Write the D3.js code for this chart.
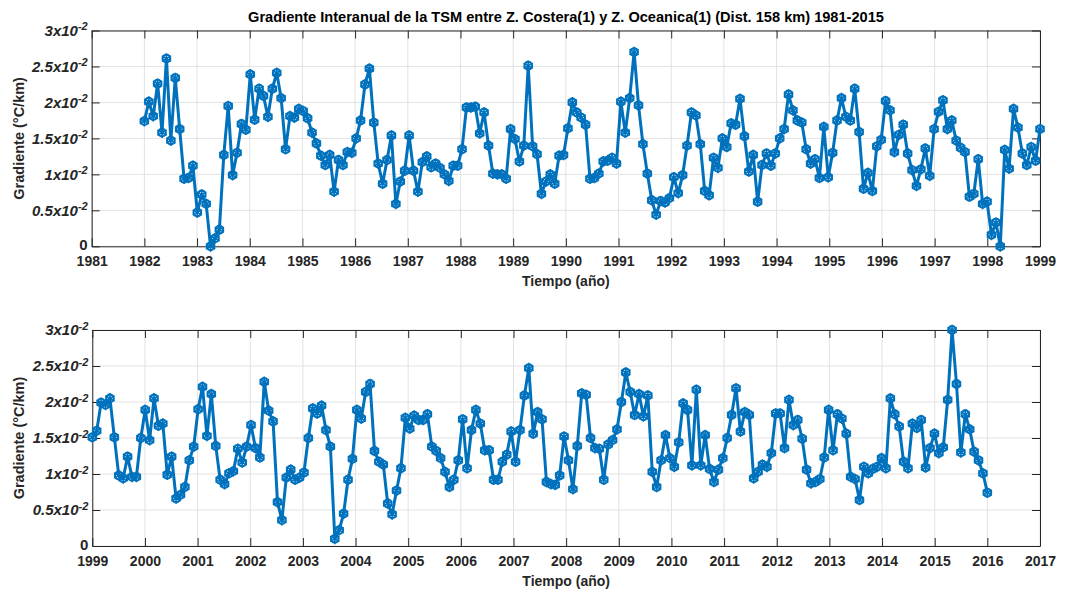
<!DOCTYPE html>
<html>
<head>
<meta charset="utf-8">
<script src="https://cdn.jsdelivr.net/npm/d3@7"></script>
<style>
  body { margin: 0; background: #fff; }
  svg { font-family: "Liberation Sans", Arial, sans-serif; }
</style>
</head>
<body>
<svg id="chart" width="1065" height="591"></svg>
<script>
// monthly gradient values, Jan 1982 .. Dec 1998 (one row per year)
let gradTop = [
  0.0174,0.0201,0.0181,0.0226,0.0158,0.0261,0.0147,0.0234,0.0163,0.0094,0.0095,0.0112,
  0.0047,0.0072,0.0059,0.0000,0.0011,0.0023,0.0127,0.0195,0.0099,0.0130,0.0170,0.0162,
  0.0239,0.0176,0.0219,0.0209,0.0180,0.0219,0.0241,0.0206,0.0135,0.0181,0.0179,0.0191,
  0.0188,0.0178,0.0158,0.0143,0.0126,0.0113,0.0127,0.0076,0.0120,0.0113,0.0131,0.0130,
  0.0150,0.0175,0.0225,0.0247,0.0172,0.0115,0.0087,0.0120,0.0154,0.0059,0.0090,0.0105,
  0.0154,0.0105,0.0076,0.0117,0.0125,0.0110,0.0115,0.0109,0.0100,0.0091,0.0112,0.0112,
  0.0135,0.0193,0.0193,0.0194,0.0157,0.0186,0.0140,0.0101,0.0100,0.0100,0.0094,0.0163,
  0.0149,0.0118,0.0140,0.0251,0.0139,0.0128,0.0073,0.0090,0.0100,0.0087,0.0126,0.0127,
  0.0164,0.0200,0.0186,0.0179,0.0169,0.0094,0.0095,0.0101,0.0118,0.0119,0.0123,0.0115,
  0.0201,0.0158,0.0206,0.0270,0.0196,0.0142,0.0101,0.0064,0.0044,0.0063,0.0061,0.0067,
  0.0096,0.0074,0.0099,0.0140,0.0186,0.0182,0.0142,0.0077,0.0071,0.0123,0.0109,0.0150,
  0.0138,0.0171,0.0169,0.0205,0.0153,0.0104,0.0127,0.0062,0.0113,0.0129,0.0112,0.0129,
  0.0150,0.0163,0.0211,0.0189,0.0175,0.0172,0.0135,0.0115,0.0121,0.0095,0.0166,0.0096,
  0.0130,0.0175,0.0206,0.0180,0.0175,0.0219,0.0159,0.0080,0.0102,0.0077,0.0139,0.0148,
  0.0202,0.0189,0.0131,0.0155,0.0169,0.0129,0.0106,0.0084,0.0107,0.0136,0.0098,0.0163,
  0.0187,0.0203,0.0163,0.0175,0.0147,0.0137,0.0131,0.0069,0.0073,0.0121,0.0059,0.0062,
  0.0016,0.0033,0.0000,0.0134,0.0108,0.0191,0.0165,0.0129,0.0113,0.0138,0.0119,0.0163
];

// monthly gradient values, Jan 1999 .. Dec 2015
let gradBottom = [
  0.0151,0.0160,0.0199,0.0196,0.0205,0.0151,0.0098,0.0094,0.0124,0.0096,0.0096,0.0150,
  0.0189,0.0147,0.0205,0.0167,0.0170,0.0099,0.0124,0.0066,0.0071,0.0082,0.0119,0.0138,
  0.0190,0.0221,0.0153,0.0211,0.0139,0.0092,0.0086,0.0101,0.0104,0.0135,0.0116,0.0138,
  0.0168,0.0136,0.0123,0.0228,0.0188,0.0173,0.0061,0.0036,0.0095,0.0106,0.0092,0.0095,
  0.0102,0.0150,0.0191,0.0184,0.0195,0.0161,0.0138,0.0010,0.0022,0.0045,0.0092,0.0121,
  0.0189,0.0177,0.0214,0.0225,0.0132,0.0117,0.0113,0.0059,0.0044,0.0077,0.0108,0.0178,
  0.0163,0.0181,0.0175,0.0175,0.0183,0.0138,0.0132,0.0122,0.0103,0.0082,0.0092,0.0119,
  0.0176,0.0108,0.0161,0.0189,0.0170,0.0133,0.0133,0.0092,0.0092,0.0117,0.0127,0.0159,
  0.0117,0.0161,0.0209,0.0247,0.0156,0.0186,0.0176,0.0089,0.0086,0.0085,0.0098,0.0152,
  0.0119,0.0079,0.0139,0.0212,0.0210,0.0150,0.0136,0.0135,0.0092,0.0141,0.0147,0.0162,
  0.0200,0.0241,0.0214,0.0182,0.0211,0.0180,0.0209,0.0103,0.0082,0.0119,0.0154,0.0122,
  0.0110,0.0144,0.0198,0.0189,0.0112,0.0217,0.0112,0.0154,0.0107,0.0089,0.0106,0.0122,
  0.0150,0.0182,0.0219,0.0159,0.0186,0.0182,0.0094,0.0103,0.0113,0.0110,0.0129,0.0184,
  0.0184,0.0136,0.0203,0.0168,0.0175,0.0149,0.0106,0.0087,0.0089,0.0093,0.0123,0.0189,
  0.0133,0.0183,0.0177,0.0156,0.0096,0.0093,0.0064,0.0110,0.0101,0.0107,0.0110,0.0122,
  0.0108,0.0205,0.0183,0.0166,0.0117,0.0108,0.0170,0.0164,0.0175,0.0109,0.0136,0.0156,
  0.0129,0.0137,0.0203,0.0300,0.0225,0.0130,0.0183,0.0162,0.0131,0.0119,0.0101,0.0074
];

let yearsTop = d3.range(1981, 2000);
let yearsBottom = d3.range(1999, 2018);
let yTicks = [0, 0.005, 0.01, 0.015, 0.02, 0.025, 0.03];
let yTickLabels = ["0", "0.5", "1", "1.5", "2", "2.5", "3"];

let title = "Gradiente Interanual de la TSM entre Z. Costera(1) y Z. Oceanica(1) (Dist. 158 km) 1981-2015";
let blue = "#0072BD";
let axisColor = "#262626";

let svg = d3.select("#chart");

svg.append("text")
  .attr("x", 566).attr("y", 22)
  .attr("text-anchor", "middle")
  .attr("font-weight", "bold")
  .attr("font-size", "14.6px")
  .attr("fill", "#000")
  .text(title);

function drawPanel(cfg) {
  let x = d3.scaleLinear().domain(cfg.xDomain).range([cfg.left, cfg.right]);
  let y = d3.scaleLinear().domain([0, 0.03]).range([cfg.bottom, cfg.top]);
  let g = svg.append("g");

  // grid
  g.append("g").selectAll("line").data(cfg.years).join("line")
    .attr("x1", d => x(d)).attr("x2", d => x(d))
    .attr("y1", cfg.top).attr("y2", cfg.bottom)
    .attr("stroke", "#e2e2e2");
  g.append("g").selectAll("line").data(yTicks).join("line")
    .attr("x1", cfg.left).attr("x2", cfg.right)
    .attr("y1", d => y(d)).attr("y2", d => y(d))
    .attr("stroke", "#e2e2e2");

  // box + ticks (inside, like matlab)
  let xb = g.append("g").attr("transform", "translate(0," + cfg.bottom + ")")
    .call(d3.axisBottom(x).tickValues(cfg.years).tickFormat(d3.format("d"))
      .tickSize(-8).tickSizeOuter(0).tickPadding(10));
  g.append("g").attr("transform", "translate(0," + cfg.top + ")")
    .call(d3.axisTop(x).tickValues(cfg.years).tickFormat("").tickSize(-8).tickSizeOuter(0));
  let yl = g.append("g").attr("transform", "translate(" + cfg.left + ",0)")
    .call(d3.axisLeft(y).tickValues(yTicks).tickSize(-8).tickSizeOuter(0).tickPadding(4));
  g.append("g").attr("transform", "translate(" + cfg.right + ",0)")
    .call(d3.axisRight(y).tickValues(yTicks).tickFormat("").tickSize(-8).tickSizeOuter(0));

  g.selectAll(".domain, .tick line").attr("stroke", axisColor);
  xb.selectAll("text")
    .attr("font-size", "14px").attr("font-weight", "bold")
    .attr("font-family", "Liberation Sans, Arial, sans-serif").attr("fill", axisColor);

  yl.selectAll(".tick text").each(function(d, i) {
    let t = d3.select(this);
    t.text(null)
      .attr("font-size", "15px").attr("font-weight", "bold")
      .attr("font-family", "Liberation Sans, Arial, sans-serif").attr("fill", axisColor);
    if (d === 0) { t.attr("dy", "0.2em").text("0"); return; }
    t.attr("font-style", "italic");
    t.append("tspan").text(yTickLabels[i] + "x10");
    t.append("tspan").attr("dy", "-0.5em").attr("font-size", "11px").text("-2");
  });

  // axis titles
  g.append("text")
    .attr("x", (cfg.left + cfg.right) / 2).attr("y", cfg.bottom + 40)
    .attr("text-anchor", "middle").attr("font-weight", "bold").attr("font-size", "14px")
    .attr("fill", axisColor)
    .text("Tiempo (año)");
  g.append("text")
    .attr("transform", "translate(24," + ((cfg.top + cfg.bottom) / 2) + ") rotate(-90)")
    .attr("text-anchor", "middle").attr("font-weight", "bold").attr("font-size", "14.5px")
    .attr("fill", axisColor)
    .text("Gradiente (°C/km)");

  // data, evenly spaced over the plotted years
  let n = cfg.data.length;
  let t = cfg.data.map((v, i) => cfg.start + i * (cfg.end - cfg.start) / (n - 1));

  let line = d3.line().x((d, i) => x(t[i])).y(d => y(d));
  g.append("path").datum(cfg.data)
    .attr("d", line)
    .attr("fill", "none").attr("stroke", blue)
    .attr("stroke-width", 3).attr("stroke-linejoin", "round");

  let pts = g.append("g").selectAll("g").data(cfg.data).join("g")
    .attr("transform", (d, i) => "translate(" + x(t[i]) + "," + y(d) + ")");
  pts.append("circle").attr("r", 3.8)
    .attr("fill", "none").attr("stroke", blue).attr("stroke-width", 2.2);
  pts.append("path")
    .attr("d", d3.symbol(d3.symbolAsterisk, 80))
    .attr("fill", "none").attr("stroke", blue).attr("stroke-width", 1.6);
}

drawPanel({ left: 91.7, right: 1040, top: 30.5, bottom: 246.3,
  xDomain: [1981, 1999], years: yearsTop, start: 1982, end: 1999, data: gradTop });
drawPanel({ left: 92.3, right: 1040, top: 330, bottom: 546,
  xDomain: [1999, 2017], years: yearsBottom, start: 1999, end: 2016, data: gradBottom });
</script>
</body>
</html>
